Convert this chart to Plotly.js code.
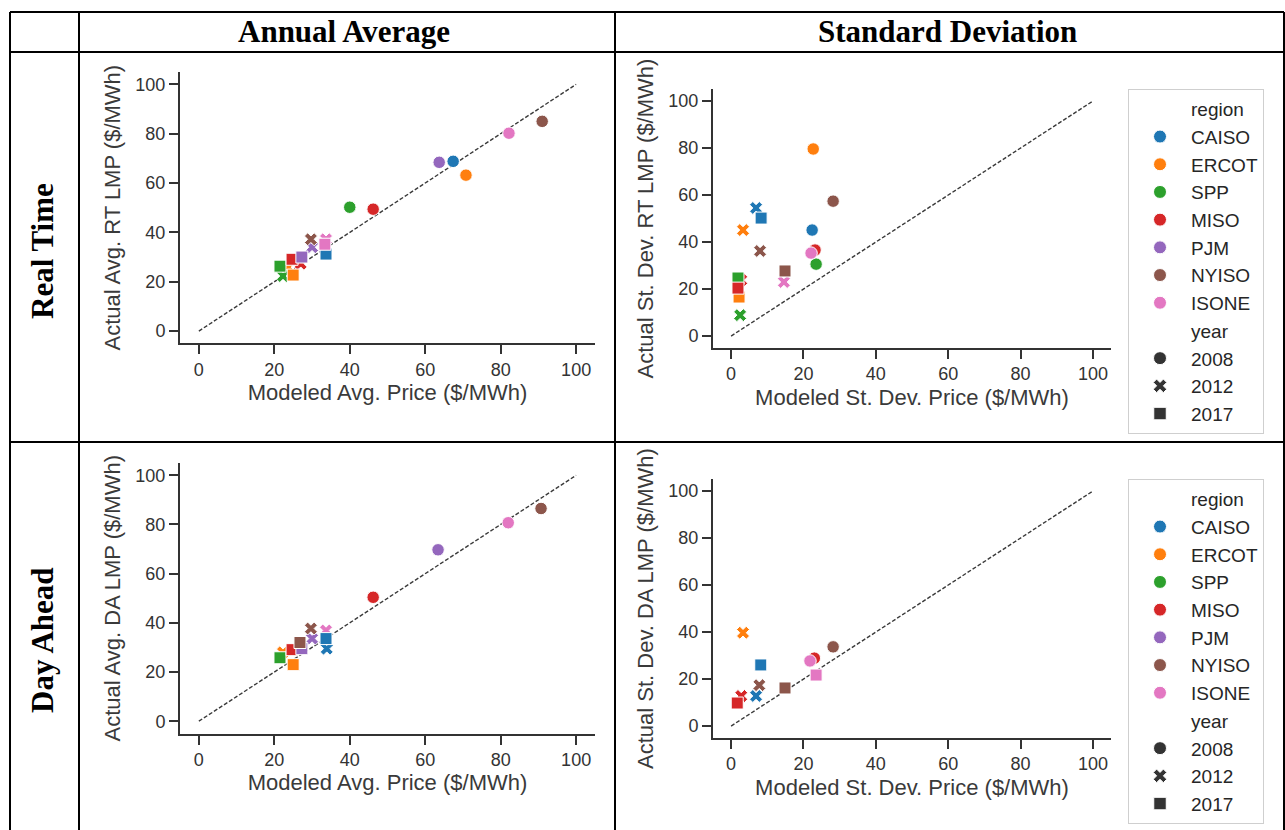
<!DOCTYPE html>
<html><head><meta charset="utf-8">
<script src="https://cdn.plot.ly/plotly-3.0.1.min.js"></script>
<style>body{margin:0;background:#fff}#chart{width:1285px;height:830px}</style>
</head><body><div id="chart"></div>
<script>
// ---------------- DATA ----------------
const regions = ['CAISO','ERCOT','SPP','MISO','PJM','NYISO','ISONE'];
const years = ['2008','2012','2017'];
const diagX = [0, 100];
const diagY = [0, 100];
const tickVals = [0, 20, 40, 60, 80, 100];

// Real Time - Annual Average (modeled x, actual y), one value per region
const rtAvgModeled2008 = [67.4, 70.8, 40.0, 46.2, 63.7, 91.0, 82.2];
const rtAvgActual2008  = [68.8, 63.2, 50.2, 49.4, 68.4, 85.0, 80.2];
const rtAvgModeled2012 = [null, 23.6, 22.3, 27.0, 30.0, 29.7, 33.7];
const rtAvgActual2012  = [null, 25.9, 22.3, 27.3, 34.0, 37.2, 37.2];
const rtAvgModeled2017 = [33.7, 25.0, 21.5, 24.7, 27.3, null, 33.4];
const rtAvgActual2017  = [31.2, 22.7, 26.3, 29.1, 30.0, null, 35.2];

// Real Time - Standard Deviation
const rtStdModeled2008 = [22.4, 22.7, 23.5, 23.2, null, 28.2, 22.1];
const rtStdActual2008  = [45.1, 79.6, 30.6, 36.6, null, 57.4, 35.3];
const rtStdModeled2012 = [6.9, 3.3, 2.5, 2.8, null, 8.0, 14.6];
const rtStdActual2012  = [54.5, 45.1, 8.9, 23.8, null, 36.2, 23.0];
const rtStdModeled2017 = [8.3, 2.2, 1.9, 1.9, null, 14.9, null];
const rtStdActual2017  = [50.2, 16.6, 24.7, 20.4, null, 27.7, null];

// Day Ahead - Annual Average
const daAvgModeled2008 = [null, null, null, 46.2, 63.4, 90.7, 82.0];
const daAvgActual2008  = [null, null, null, 50.4, 69.7, 86.5, 80.7];
const daAvgModeled2012 = [33.9, 22.3, null, null, 30.0, 29.7, 33.7];
const daAvgActual2012  = [29.5, 28.0, null, null, 33.6, 37.7, 36.9];
const daAvgModeled2017 = [33.7, 25.0, 21.5, 24.7, 27.3, 26.8, null];
const daAvgActual2017  = [33.6, 23.0, 25.8, 29.1, 29.5, 32.0, null];

// Day Ahead - Standard Deviation
const daStdModeled2008 = [null, null, null, 23.0, null, 28.2, 21.8];
const daStdActual2008  = [null, null, null, 28.9, null, 33.7, 27.7];
const daStdModeled2012 = [6.9, 3.3, null, 2.8, null, 7.8, null];
const daStdActual2012  = [12.8, 39.7, null, 12.8, null, 17.4, null];
const daStdModeled2017 = [8.2, null, null, 1.7, null, 14.9, 23.5];
const daStdActual2017  = [26.0, null, null, 9.8, null, 16.2, 21.7];

// ---------------- STYLE ----------------
const regionColors = ['#1f77b4','#ff7f0e','#2ca02c','#d62728','#9467bd','#8c564b','#e377c2'];
const yearSymbols = ['circle','x','square'];
const yearSizes = [12.5, 11.5, 12];
const ink = '#262626';
const W = 1285, H = 830;
const px = v => v / W;
const py = v => 1 - v / H;

const panels = [
  {ax:'', data:[[rtAvgModeled2008,rtAvgActual2008],[rtAvgModeled2012,rtAvgActual2012],[rtAvgModeled2017,rtAvgActual2017]],
   xt:'Modeled Avg. Price ($/MWh)', yt:'Actual Avg. RT LMP ($/MWh)', xd:[180,595], yd:[343.4,72]},
  {ax:'2', data:[[rtStdModeled2008,rtStdActual2008],[rtStdModeled2012,rtStdActual2012],[rtStdModeled2017,rtStdActual2017]],
   xt:'Modeled St. Dev. Price ($/MWh)', yt:'Actual St. Dev. RT LMP ($/MWh)', xd:[713,1111], yd:[347.8,89.3]},
  {ax:'3', data:[[daAvgModeled2008,daAvgActual2008],[daAvgModeled2012,daAvgActual2012],[daAvgModeled2017,daAvgActual2017]],
   xt:'Modeled Avg. Price ($/MWh)', yt:'Actual Avg. DA LMP ($/MWh)', xd:[180,595], yd:[733.5,463]},
  {ax:'4', data:[[daStdModeled2008,daStdActual2008],[daStdModeled2012,daStdActual2012],[daStdModeled2017,daStdActual2017]],
   xt:'Modeled St. Dev. Price ($/MWh)', yt:'Actual St. Dev. DA LMP ($/MWh)', xd:[713,1111], yd:[737.8,479.3]}
];

const traces = [];
const layout = {
  width: W, height: H, margin:{l:0,r:0,t:0,b:0},
  paper_bgcolor:'#fff', plot_bgcolor:'rgba(0,0,0,0)',
  font:{family:'Liberation Sans, Arial, sans-serif', color:ink},
  showlegend:true, shapes:[], annotations:[]
};

panels.forEach((p) => {
  const xa = 'x' + p.ax, ya = 'y' + p.ax;
  traces.push({x:diagX, y:diagY, xaxis:xa, yaxis:ya, mode:'lines', showlegend:false, hoverinfo:'skip',
    line:{color:'#3a3a3a', width:1.4, dash:'4px,2px'}});
  p.data.forEach((d, yi) => {
    traces.push({x:d[0], y:d[1], xaxis:xa, yaxis:ya, mode:'markers', showlegend:false,
      text:regions, name:years[yi],
      marker:{color:regionColors, symbol:yearSymbols[yi], size:yearSizes[yi], line:{color:'#fff', width:1}}});
  });
  const axCommon = {range:[-5,105], tickvals:tickVals, showgrid:false, zeroline:false, showline:true,
    linecolor:'#333', linewidth:2, ticks:'outside', ticklen:9, tickwidth:2, tickcolor:'#333',
    tickfont:{size:18, color:'#333', family:'Liberation Sans, Arial, sans-serif'}, fixedrange:true};
  layout['xaxis' + p.ax] = Object.assign({}, axCommon, {domain:[px(p.xd[0]), px(p.xd[1])], anchor:ya,
    title:{text:p.xt, font:{size:22, color:'#3a3a3a'}, standoff:6}});
  layout['yaxis' + p.ax] = Object.assign({}, axCommon, {domain:[py(p.yd[0]), py(p.yd[1])], anchor:xa,
    title:{text:p.yt, font:{size:22, color:'#3a3a3a'}, standoff:9}});
});

// legends (one per right-hand panel)
['legend','legend2'].forEach((lg, li) => {
  const xa = li === 0 ? 'x2' : 'x4', ya = li === 0 ? 'y2' : 'y4';
  traces.push({x:[null], y:[null], xaxis:xa, yaxis:ya, mode:'markers', name:'region', legend:lg,
    marker:{color:'rgba(0,0,0,0)', size:1, line:{width:0}}, hoverinfo:'skip'});
  regions.forEach((r, i) => traces.push({x:[null], y:[null], xaxis:xa, yaxis:ya, mode:'markers', name:r, legend:lg,
    marker:{color:regionColors[i], symbol:'circle', size:13, line:{color:'#fff', width:1}}}));
  traces.push({x:[null], y:[null], xaxis:xa, yaxis:ya, mode:'markers', name:'year', legend:lg,
    marker:{color:'rgba(0,0,0,0)', size:1, line:{width:0}}, hoverinfo:'skip'});
  years.forEach((yv, i) => traces.push({x:[null], y:[null], xaxis:xa, yaxis:ya, mode:'markers', name:yv, legend:lg,
    marker:{color:'#333', symbol:yearSymbols[i], size:yearSizes[i] + 0.5, line:{color:'#fff', width:1}}}));
  layout[lg] = {x:px(1128), y:py(li === 0 ? 89 : 479), xanchor:'left', yanchor:'top',
    bgcolor:'#fff', bordercolor:'#cfcfcf', borderwidth:1, itemwidth:52,
    font:{size:19, color:ink, family:'Liberation Sans, Arial, sans-serif'}, traceorder:'normal'};
});

// table grid
const lineStyle = {color:'#000', width:2};
const hLines = [12, 52, 442];
const vLines = [10, 79, 615, 1284];
hLines.forEach(y => layout.shapes.push({type:'line', xref:'paper', yref:'paper', x0:px(10), x1:px(1284), y0:py(y), y1:py(y), line:lineStyle}));
vLines.forEach(x => layout.shapes.push({type:'line', xref:'paper', yref:'paper', x0:px(x), x1:px(x), y0:py(12), y1:py(830), line:lineStyle}));

const serif = 'Liberation Serif, Times New Roman, serif';
const headers = [
  {text:'<b>Annual Average</b>', x:344, y:32, angle:0},
  {text:'<b>Standard Deviation</b>', x:947, y:32, angle:0},
  {text:'<b>Real Time</b>', x:42, y:251, angle:-90},
  {text:'<b>Day Ahead</b>', x:42, y:640, angle:-90}
];
headers.forEach(h => layout.annotations.push({text:h.text, xref:'paper', yref:'paper', x:px(h.x), y:py(h.y),
  xanchor:'center', yanchor:'middle', showarrow:false, textangle:h.angle, font:{family:serif, size:31, color:'#000'}}));

Plotly.newPlot('chart', traces, layout, {displayModeBar:false, staticPlot:true});
</script>
</body></html>
